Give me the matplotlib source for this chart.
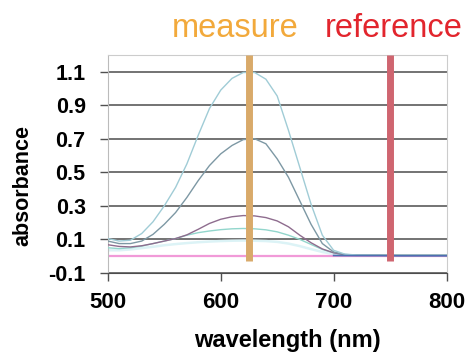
import matplotlib
matplotlib.use('Agg')
import matplotlib.pyplot as plt

plt.rcParams['font.family'] = ['Liberation Sans', 'DejaVu Sans']

# wavelength grid (nm)
wavelength = [500, 510, 520, 530, 540, 550, 560, 570, 580, 590,
              600, 610, 620, 630, 640, 650, 660, 670, 680, 690,
              700, 710, 720, 730, 740, 750, 760, 770, 780, 790, 800]

# absorbance spectra
abs_high = [0.105, 0.09, 0.095, 0.135, 0.205, 0.30, 0.41, 0.55, 0.72, 0.88,
            0.99, 1.06, 1.095, 1.095, 1.055, 0.955, 0.75, 0.53, 0.31, 0.125,
            0.035, 0.012, 0.007, 0.006, 0.005, 0.005, 0.005, 0.005, 0.005, 0.005, 0.005]
abs_mid = [0.09, 0.075, 0.075, 0.09, 0.13, 0.19, 0.26, 0.35, 0.45, 0.54,
           0.61, 0.66, 0.695, 0.70, 0.67, 0.58, 0.47, 0.33, 0.19, 0.075,
           0.025, 0.01, 0.007, 0.006, 0.005, 0.005, 0.005, 0.005, 0.005, 0.005, 0.005]
abs_low = [0.068, 0.058, 0.055, 0.062, 0.075, 0.09, 0.105, 0.127, 0.16, 0.195,
           0.22, 0.235, 0.242, 0.24, 0.23, 0.21, 0.175, 0.125, 0.08, 0.043,
           0.02, 0.008, 0.006, 0.005, 0.005, 0.005, 0.005, 0.005, 0.005, 0.005, 0.005]
abs_lower = [0.05, 0.045, 0.05, 0.06, 0.075, 0.09, 0.105, 0.125, 0.14, 0.15,
             0.158, 0.163, 0.165, 0.163, 0.157, 0.145, 0.125, 0.10, 0.07, 0.04,
             0.02, 0.008, 0.006, 0.005, 0.005, 0.005, 0.005, 0.005, 0.005, 0.005, 0.005]
abs_faint = [0.035, 0.035, 0.04, 0.048, 0.056, 0.065, 0.072, 0.078, 0.083, 0.087,
             0.09, 0.092, 0.093, 0.092, 0.09, 0.085, 0.075, 0.06, 0.042, 0.025,
             0.012, 0.006, 0.005, 0.005, 0.005, 0.005, 0.005, 0.005, 0.005, 0.005, 0.005]
blank = [0.0] * len(wavelength)
tail_wl = [700, 720, 740, 760, 780, 800]
tail_abs = [0.004, 0.003, 0.003, 0.002, 0.002, 0.002]

measure_wl = 625
reference_wl = 750
bar_span = [-0.03, 1.2]

y_ticks = [-0.1, 0.1, 0.3, 0.5, 0.7, 0.9, 1.1]
x_ticks = [500, 600, 700, 800]

fig = plt.figure(figsize=(4.71, 3.54), dpi=100)
ax = fig.add_axes([0.229, 0.229, 0.719, 0.616])

for y in y_ticks:
    ax.axhline(y, color='#4d4d4d', linewidth=1.1, zorder=1)

ax.plot(wavelength, abs_faint, color='#dcf3f6', linewidth=1.8, zorder=2)
ax.plot(wavelength, blank, color='#f19ad8', linewidth=1.6, zorder=2)
ax.plot(wavelength, abs_lower, color='#92d6cc', linewidth=1.0, zorder=3)
ax.plot(wavelength, abs_low, color='#8e6c8e', linewidth=1.0, zorder=3)
ax.plot(wavelength, abs_mid, color='#7d98a4', linewidth=1.0, zorder=3)
ax.plot(wavelength, abs_high, color='#a0ccd6', linewidth=1.0, zorder=3)
ax.plot(tail_wl, tail_abs, color='#4d70b0', linewidth=1.2, zorder=3)

ax.plot([measure_wl, measure_wl], bar_span, color='#d9aa6a', linewidth=5,
        solid_capstyle='butt', zorder=4)
ax.plot([reference_wl, reference_wl], bar_span, color='#cf6570', linewidth=5,
        solid_capstyle='butt', zorder=4)

ax.set_xlim(500, 800)
ax.set_ylim(-0.1, 1.2)
ax.set_xticks(x_ticks)
ax.set_yticks(y_ticks)
ax.set_xticklabels([str(v) for v in x_ticks], fontsize=16, fontweight='bold')
ax.set_yticklabels(['-0.1', '0.1', '0.3', '0.5', '0.7', '0.9', '1.1'],
                   fontsize=15.5, fontweight='bold')
ax.tick_params(axis='both', length=6, width=1, color='#505050')
ax.tick_params(axis='y', pad=10)
ax.tick_params(axis='x', pad=8)

for side in ['top', 'right']:
    ax.spines[side].set_color('#cccccc')
ax.spines['left'].set_color('#bbbbbb')
ax.spines['bottom'].set_color('#4d4d4d')

ax.set_xlabel('wavelength (nm)', fontsize=17, fontweight='bold')
ax.xaxis.set_label_coords(0.53, -0.255)
ax.set_ylabel('absorbance', fontsize=15.5, fontweight='bold')
ax.yaxis.set_label_coords(-0.22, 0.40)

fig.text(0.50, 0.92, 'measure', color='#f2a93b', fontsize=23.5,
         ha='center', va='center')
fig.text(0.836, 0.92, 'reference', color='#e2252d', fontsize=23.5,
         ha='center', va='center')

plt.savefig('out.png', dpi=100)
